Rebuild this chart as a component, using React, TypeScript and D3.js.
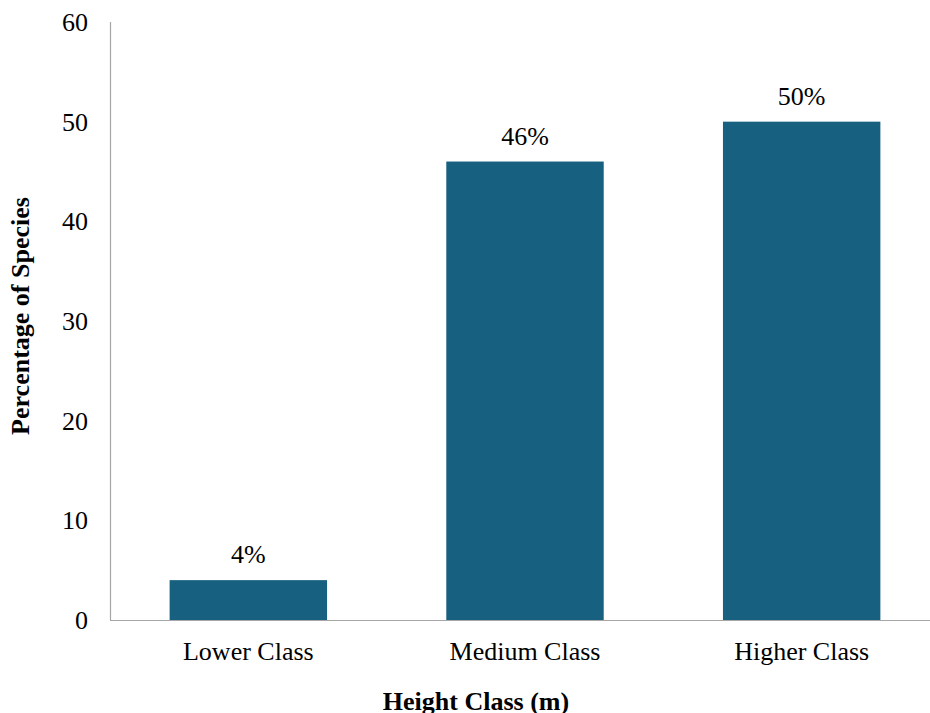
import React from "react";
import * as d3 from "d3";

// Share of species per height class
const categories = ["Lower Class", "Medium Class", "Higher Class"];
const percentages = [4, 46, 50];
const yTicks = [0, 10, 20, 30, 40, 50, 60];

const WIDTH = 930;
const HEIGHT = 713;
const FONT = "'Liberation Serif', 'Times New Roman', serif";
const BAR_COLOR = "#18607f";
const AXIS_COLOR = "#a6a6a6";

export default function App() {
  const x = d3
    .scaleBand<string>()
    .domain(categories)
    .range([110, 940])
    .paddingInner(0.431)
    .paddingOuter(0.2155);

  const y = d3.scaleLinear().domain([0, 60]).range([620, 22]);

  return (
    <div style={{ position: "absolute", left: 0, top: 0 }}>
      <svg width={WIDTH} height={HEIGHT} style={{ display: "block", background: "#fff" }}>
        {/* bars */}
        {categories.map((c, i) => (
          <rect
            key={c}
            x={x(c)}
            y={y(percentages[i])}
            width={x.bandwidth()}
            height={y(0) - y(percentages[i])}
            fill={BAR_COLOR}
          />
        ))}

        {/* value labels */}
        {categories.map((c, i) => (
          <text
            key={c + "-lbl"}
            x={(x(c) as number) + x.bandwidth() / 2}
            y={y(percentages[i]) - 17}
            textAnchor="middle"
            fontFamily={FONT}
            fontSize={26}
            fill="#000"
          >
            {percentages[i]}%
          </text>
        ))}

        {/* axes */}
        <line x1={110.5} x2={110.5} y1={y(60)} y2={y(0)} stroke={AXIS_COLOR} strokeWidth={1.2} />
        <line x1={110} x2={940} y1={y(0) + 0.5} y2={y(0) + 0.5} stroke={AXIS_COLOR} strokeWidth={1.2} />

        {/* y tick labels */}
        {yTicks.map((t) => (
          <text
            key={t}
            x={88}
            y={y(t)}
            dy="0.35em"
            textAnchor="end"
            fontFamily={FONT}
            fontSize={26}
            fill="#000"
          >
            {t}
          </text>
        ))}

        {/* category labels */}
        {categories.map((c) => (
          <text
            key={c + "-cat"}
            x={(x(c) as number) + x.bandwidth() / 2}
            y={660}
            textAnchor="middle"
            fontFamily={FONT}
            fontSize={26}
            fill="#000"
          >
            {c}
          </text>
        ))}

        {/* axis titles */}
        <text
          x={476}
          y={710}
          textAnchor="middle"
          fontFamily={FONT}
          fontSize={26}
          fontWeight="bold"
          fill="#000"
        >
          Height Class (m)
        </text>
        <text
          transform="translate(29,316) rotate(-90)"
          textAnchor="middle"
          fontFamily={FONT}
          fontSize={26}
          fontWeight="bold"
          fill="#000"
        >
          Percentage of Species
        </text>
      </svg>
    </div>
  );
}
